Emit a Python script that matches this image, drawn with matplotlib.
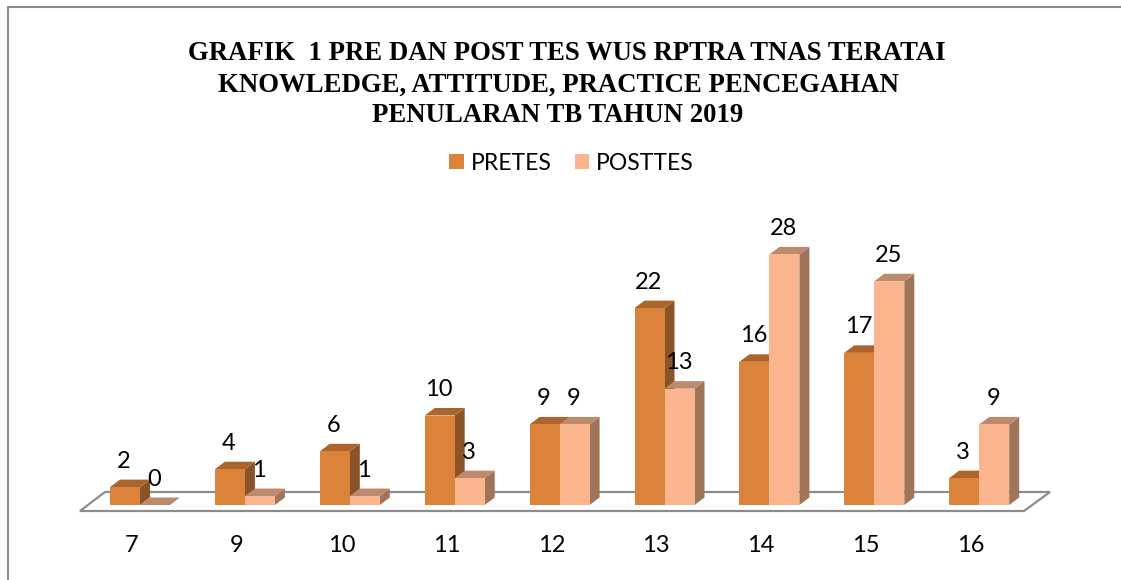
import matplotlib
matplotlib.use('Agg')
import matplotlib.pyplot as plt
from matplotlib.patches import Polygon, Rectangle

categories = ['7', '9', '10', '11', '12', '13', '14', '15', '16']
pretes = [2, 4, 6, 10, 9, 22, 16, 17, 3]
posttes = [0, 1, 1, 3, 9, 13, 28, 25, 9]
title_lines = [
    'GRAFIK  1 PRE DAN POST TES WUS RPTRA TNAS TERATAI',
    'KNOWLEDGE, ATTITUDE, PRACTICE PENCEGAHAN',
    'PENULARAN TB TAHUN 2019',
]

W, H = 1121, 580
BASE_Y = 505        # pixel row of the bar feet
PX_UNIT = 8.95      # pixels per unit of y
PX_CAT = 104.9      # pixels per category
X0 = 140            # pixel of first category centre
BAR_PX = 30
DX_PX, DY_PX = 10, 7.5

plt.rcParams['font.family'] = ['Lato', 'DejaVu Sans']

fig = plt.figure(figsize=(W / 100, H / 100), dpi=100)
ax = fig.add_axes([0, (H - BASE_Y) / H, 1, BASE_Y / H])
ax.set_xlim(-X0 / PX_CAT, (W - X0) / PX_CAT)
ax.set_ylim(0, BASE_Y / PX_UNIT)
ax.set_facecolor('none')
for s in ax.spines.values():
    s.set_visible(False)
ax.set_yticks([])

bar_w = BAR_PX / PX_CAT
dx = DX_PX / PX_CAT
dy = DY_PX / PX_UNIT


def draw_series(values, offset, front, top, side, label):
    for i, v in enumerate(values):
        x0 = i + offset
        x1 = x0 + bar_w
        ax.add_patch(Polygon([(x1, 0), (x1 + dx, dy), (x1 + dx, v + dy), (x1, v)],
                             fc=side, ec='none', zorder=3))
        ax.add_patch(Polygon([(x0, v), (x0 + dx, v + dy), (x1 + dx, v + dy), (x1, v)],
                             fc=top, ec='none', zorder=3))
        ax.bar(x0, v, bar_w, align='edge', color=front, zorder=3,
               label=label if i == 0 else None)
        ax.annotate(str(v), (x0 + bar_w / 2, v), xytext=(-1, 26),
                    textcoords='offset pixels', ha='center', va='center',
                    fontsize=17, color='black', zorder=6)


# floor of the 3d chart
floor = Polygon([(-60 / PX_CAT, -6 / PX_UNIT), (884 / PX_CAT, -6 / PX_UNIT),
                 (910 / PX_CAT, 13 / PX_UNIT), (-35 / PX_CAT, 13 / PX_UNIT)],
                fc='white', ec='#8c8c8c', lw=1.6, clip_on=False, zorder=1)
ax.add_patch(floor)

draw_series(pretes, -bar_w, '#DB833B', '#AB652B', '#8A5428', 'PRETES')
draw_series(posttes, 0, '#FBB58E', '#BD8A6E', '#9F7459', 'POSTTES')

ax.set_xticks([i - 8.3 / PX_CAT for i in range(len(categories))])
ax.set_xticklabels(categories, fontsize=17)
ax.tick_params(axis='x', length=0, pad=21.5)

for line, cx, cy in zip(title_lines, [567, 558, 558], [53.5, 85.5, 115]):
    fig.text(cx / W, 1 - cy / H, line, family='Liberation Serif', weight='bold',
             fontsize=19.3, ha='center', va='center', color='black')

ax.legend(loc='center', bbox_to_anchor=(571.5 / W, (BASE_Y - 163) / BASE_Y), ncol=2,
          frameon=False, fontsize=16.5, handlelength=0.65, handleheight=0.65,
          handletextpad=0.3, columnspacing=1.0, borderpad=0, labelspacing=0)

# chart frame, runs off the right and bottom edges
fig.add_artist(Rectangle((8 / W, -0.1), 1.1, 1.1 - 7 / H, transform=fig.transFigure,
                         fill=False, ec='#8c8c8c', lw=1.5))

fig.savefig('out.png', dpi=100)
